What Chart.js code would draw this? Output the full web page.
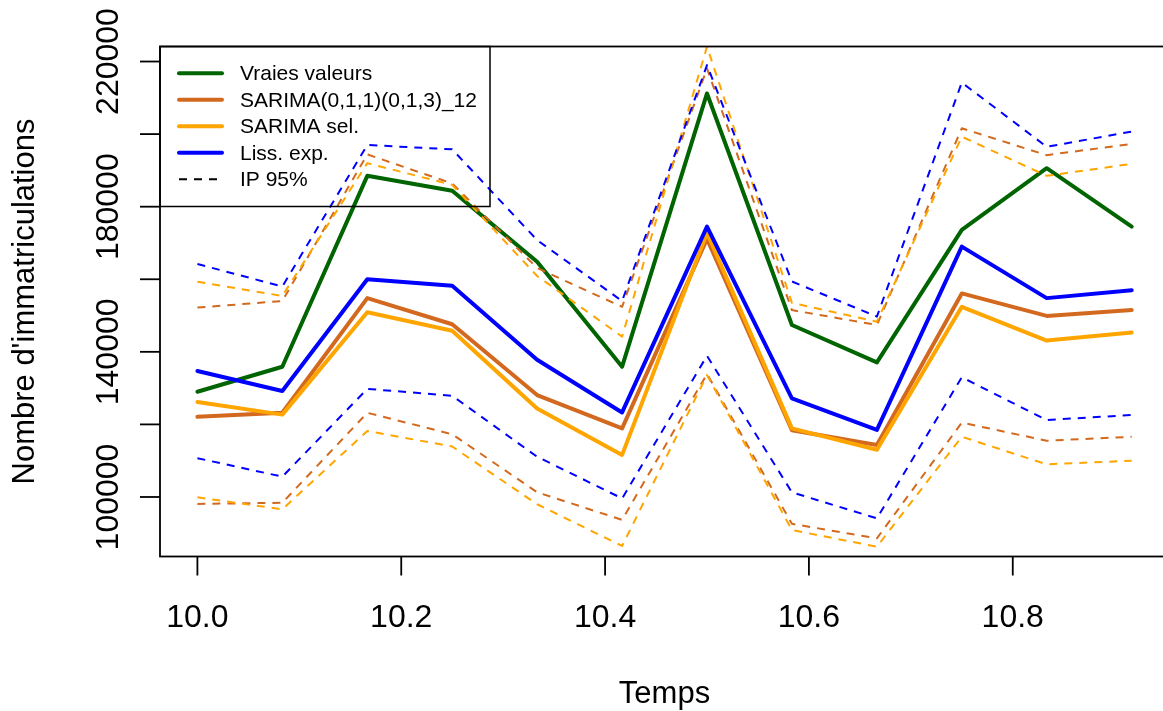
<!DOCTYPE html>
<html>
<head>
<meta charset="utf-8">
<script src="https://cdn.jsdelivr.net/npm/chart.js@4/dist/chart.umd.min.js"></script>
<style>
  html, body { margin: 0; padding: 0; background: #fff; overflow: hidden; }
  canvas { display: block; }
</style>
</head>
<body>
<canvas id="previsions" width="1170" height="711"></canvas>
<script>
// temps (années) et valeurs
var temps = [10.0, 10.0833, 10.1667, 10.25, 10.3333, 10.4167, 10.5, 10.5833, 10.6667, 10.75, 10.8333, 10.9167];

var vraiesValeurs = [129000, 135900, 188500, 184400, 164800, 135900, 211200, 147400, 137100, 173600, 190600, 174500];

var sarimaFixe     = [122100, 123200, 154800, 147600, 128100, 118900, 171100, 118400, 114300, 156100, 149900, 151500];
var sarimaFixeHaut = [152200, 154000, 194400, 186400, 163100, 152400, 218100, 151500, 147400, 201600, 194200, 197300];
var sarimaFixeBas  = [98100, 98400, 123200, 117300, 101300, 93700, 133900, 92600, 88600, 120500, 115500, 116600];

var sarimaSel     = [126200, 122700, 150900, 145800, 124400, 111600, 172800, 118900, 113000, 152400, 143100, 145300];
var sarimaSelHaut = [159300, 155400, 192000, 186000, 160900, 144200, 224100, 153500, 148300, 199300, 188500, 191800];
var sarimaSelBas  = [99900, 96600, 118200, 113900, 98000, 86500, 133600, 90900, 86300, 116600, 109000, 110000];

var lissExp     = [134700, 129200, 160000, 158200, 137800, 123300, 174500, 127200, 118500, 169000, 154800, 157000];
var lissExpHaut = [164200, 158000, 197000, 195800, 170800, 154000, 219000, 159400, 149700, 214200, 196500, 200700];
var lissExpBas  = [110700, 105600, 129800, 127900, 111100, 99600, 138900, 101300, 94100, 133000, 121200, 122600];

var xTicks = [10.0, 10.2, 10.4, 10.6, 10.8];
var xTickLabels = ['10.0', '10.2', '10.4', '10.6', '10.8'];
var yTicks = [100000, 120000, 140000, 160000, 180000, 200000, 220000];
var yTickLabels = ['100000', '', '140000', '', '180000', '', '220000'];

var legendLabels = ['Vraies valeurs', 'SARIMA(0,1,1)(0,1,3)_12', 'SARIMA sel.', 'Liss. exp.', 'IP 95%'];

var VERT = '#006400', CHOCO = '#D2691E', ORANGE = '#FFA500', BLEU = '#0000FF';
var FONT = '"Liberation Sans", Arial, Helvetica, sans-serif';

function points(values) {
    return values.map(function (v, i) { return { x: temps[i], y: v }; });
}

function serie(label, values, color, dashed, order) {
    return {
        label: label,
        data: points(values),
        borderColor: color,
        borderWidth: dashed ? 2 : 4,
        borderDash: dashed ? [8, 7] : [],
        borderCapStyle: dashed ? 'butt' : 'round',
        borderJoinStyle: 'round',
        pointRadius: 0,
        tension: 0,
        fill: false,
        order: order
    };
}

// axes, cadre et légende à la manière de R
var styleR = {
    id: 'styleR',
    afterDatasetsDraw: function (chart) {
        var ctx = chart.ctx, a = chart.chartArea;
        var xs = chart.scales.x, ys = chart.scales.y;
        ctx.save();
        ctx.strokeStyle = '#000';
        ctx.fillStyle = '#000';
        ctx.lineWidth = 1.8;
        ctx.setLineDash([]);
        ctx.strokeRect(a.left, a.top, a.right - a.left, a.bottom - a.top);

        // axe x
        ctx.font = '32px ' + FONT;
        ctx.textAlign = 'center';
        ctx.textBaseline = 'alphabetic';
        xTicks.forEach(function (t, i) {
            var px = xs.getPixelForValue(t);
            ctx.beginPath();
            ctx.moveTo(px, a.bottom);
            ctx.lineTo(px, a.bottom + 19);
            ctx.stroke();
            ctx.fillText(xTickLabels[i], px, 627);
        });

        // axe y
        yTicks.forEach(function (t, i) {
            var py = ys.getPixelForValue(t);
            ctx.beginPath();
            ctx.moveTo(a.left, py);
            ctx.lineTo(a.left - 20, py);
            ctx.stroke();
            if (yTickLabels[i]) {
                ctx.save();
                ctx.translate(118, py);
                ctx.rotate(-Math.PI / 2);
                ctx.fillText(yTickLabels[i], 0, 0);
                ctx.restore();
            }
        });

        // titres
        ctx.font = '31px ' + FONT;
        ctx.fillText('Temps', (a.left + 1169) / 2, 703);
        ctx.save();
        ctx.translate(34, (a.top + a.bottom) / 2);
        ctx.rotate(-Math.PI / 2);
        ctx.fillText("Nombre d'immatriculations", 0, 0);
        ctx.restore();

        // légende
        ctx.lineWidth = 1.5;
        ctx.strokeRect(a.left, a.top, 330, 160);
        var couleurs = [VERT, CHOCO, ORANGE, BLEU, '#000'];
        ctx.font = '21px ' + FONT;
        ctx.textAlign = 'left';
        ctx.textBaseline = 'middle';
        legendLabels.forEach(function (lab, i) {
            var y = 73.3 + i * 26.5;
            ctx.strokeStyle = couleurs[i];
            if (i === 4) {
                ctx.lineWidth = 2;
                ctx.lineCap = 'butt';
                ctx.setLineDash([8, 7]);
            } else {
                ctx.lineWidth = 4;
                ctx.lineCap = 'round';
                ctx.setLineDash([]);
            }
            ctx.beginPath();
            ctx.moveTo(179, y);
            ctx.lineTo(222, y);
            ctx.stroke();
            ctx.fillText(lab, 240, y + 1);
        });
        ctx.restore();
    }
};

document.addEventListener('DOMContentLoaded', function () {
    var ctx = document.getElementById('previsions').getContext('2d');
    var chart = new Chart(ctx, {
        type: 'line',
        data: {
            datasets: [
                serie('IP bas liss', lissExpBas, BLEU, true, 1),
                serie('IP haut liss', lissExpHaut, BLEU, true, 1),
                serie('IP bas sel', sarimaSelBas, ORANGE, true, 2),
                serie('IP haut sel', sarimaSelHaut, ORANGE, true, 2),
                serie('IP bas sarima', sarimaFixeBas, CHOCO, true, 3),
                serie('IP haut sarima', sarimaFixeHaut, CHOCO, true, 3),
                serie('Liss. exp.', lissExp, BLEU, false, 4),
                serie('SARIMA sel.', sarimaSel, ORANGE, false, 5),
                serie('SARIMA(0,1,1)(0,1,3)_12', sarimaFixe, CHOCO, false, 6),
                serie('Vraies valeurs', vraiesValeurs, VERT, false, 7)
            ]
        },
        options: {
            responsive: false,
            devicePixelRatio: 1,
            animation: false,
            layout: { padding: { left: 160, top: 46.5, right: 1, bottom: 154.5 } },
            plugins: { legend: { display: false }, tooltip: { enabled: false } },
            scales: {
                x: { type: 'linear', min: 9.9633, max: 10.9533, display: false },
                y: { type: 'linear', min: 83600, max: 224140, display: false }
            }
        },
        plugins: [styleR]
    });
});
</script>
</body>
</html>
